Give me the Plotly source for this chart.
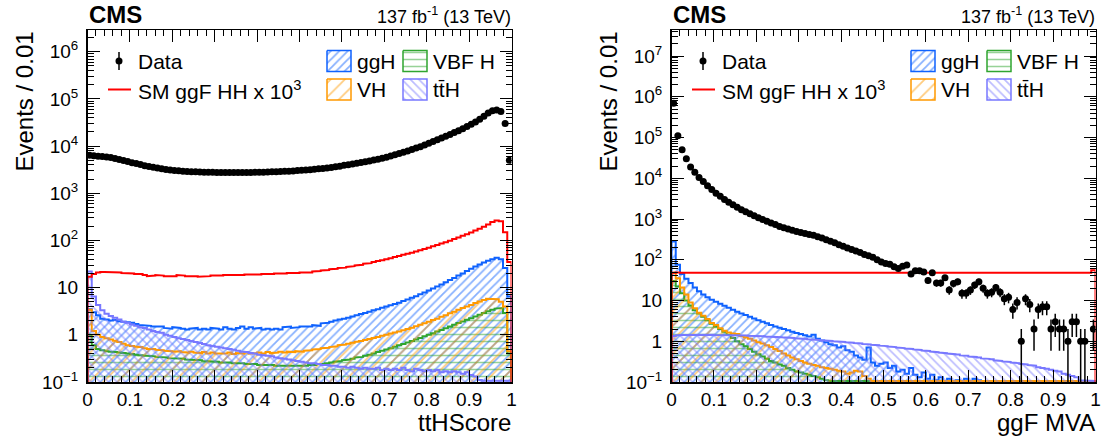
import math
import plotly.graph_objects as go

W, H = 1106, 439
N_BINS = 100
X_LO, X_HI = 0.0, 1.0

# ---------------- Left panel: ttHScore ----------------
tth_data = [6400, 6200, 6100, 6000, 5900, 5700, 5450, 5200, 4950, 4700,
            4450, 4250, 4050, 3850, 3700, 3550, 3420, 3300, 3200, 3120,
            3050, 2990, 2940, 2900, 2870, 2840, 2820, 2800, 2790, 2780,
            2770, 2760, 2760, 2750, 2750, 2750, 2760, 2760, 2770, 2780,
            2790, 2800, 2820, 2840, 2860, 2880, 2910, 2940, 2980, 3020,
            3060, 3110, 3160, 3220, 3290, 3360, 3440, 3530, 3630, 3740,
            3900, 4030, 4170, 4320, 4480, 4660, 4850, 5060, 5280, 5520,
            5800, 6150, 6550, 6950, 7400, 7900, 8450, 9050, 9700, 10500,
            11500, 12500, 13600, 14800, 16100, 17600, 19300, 21200, 23400, 26000,
            29000, 32500, 37000, 43000, 50000, 56000, 58000, 54000, 30000, 5000]

tth_hh = [17, 19.5, 21, 21.5, 21.5, 21, 21.5, 21, 20.5, 20.5,
          20, 19.5, 19.5, 18.5, 17.5, 18, 18.5, 18, 17.5, 17,
          17.5, 18.5, 18, 17.5, 18, 17.5, 17, 17.5, 17.5, 18,
          17.5, 18, 18.5, 18, 18.5, 18, 18.5, 19, 18.5, 19,
          19, 19.5, 19, 19.5, 20, 19.5, 20, 20.5, 20, 20.5,
          21, 21.5, 21, 22, 22.5, 23, 23.5, 24.5, 25, 26,
          26.5, 27.5, 28.5, 29.5, 30.5, 32, 33, 35, 36.5, 38,
          40, 42, 44.5, 47, 49.5, 52, 55, 58.5, 62, 66,
          70, 75, 80, 86, 92, 99, 107, 116, 125, 136,
          148, 162, 178, 196, 218, 245, 265, 255, 150, 35]

tth_ggh = [3.5, 3.0, 2.6, 2.2, 2.1, 2.0, 2.05, 1.95, 1.9, 1.85,
           1.8, 1.7, 1.6, 1.6, 1.55, 1.5, 1.45, 1.5, 1.4, 1.35,
           1.45, 1.4, 1.35, 1.3, 1.35, 1.4, 1.3, 1.35, 1.3, 1.4,
           1.35, 1.3, 1.45, 1.35, 1.3, 1.4, 1.5, 1.35, 1.45, 1.35,
           1.4, 1.3, 1.35, 1.3, 1.35, 1.3, 1.45, 1.5, 1.4, 1.45,
           1.5, 1.55, 1.5, 1.6, 1.55, 1.75, 1.8, 1.9, 2.0, 2.1,
           2.2, 2.3, 2.45, 2.6, 2.75, 2.9, 3.1, 3.3, 3.5, 3.75,
           4.0, 4.25, 4.5, 4.8, 5.2, 5.6, 6.1, 6.6, 7.2, 7.9,
           8.7, 9.6, 10.6, 11.7, 13, 14.5, 16, 18, 20, 22.5,
           25, 28, 31, 34, 37, 40, 43, 40, 26, 6.5]

tth_vbf = [1.0, 0.6, 0.5, 0.47, 0.45, 0.44, 0.43, 0.42, 0.41, 0.4,
           0.39, 0.38, 0.37, 0.36, 0.36, 0.35, 0.34, 0.34, 0.33, 0.32,
           0.32, 0.31, 0.31, 0.3, 0.3, 0.29, 0.29, 0.28, 0.28, 0.27,
           0.27, 0.26, 0.26, 0.26, 0.25, 0.25, 0.25, 0.24, 0.24, 0.24,
           0.23, 0.23, 0.23, 0.23, 0.22, 0.22, 0.22, 0.22, 0.22, 0.22,
           0.22, 0.22, 0.23, 0.23, 0.24, 0.24, 0.25, 0.26, 0.27, 0.28,
           0.29, 0.3, 0.31, 0.33, 0.34, 0.36, 0.38, 0.4, 0.43, 0.46,
           0.49, 0.52, 0.56, 0.6, 0.64, 0.69, 0.74, 0.8, 0.86, 0.93,
           1.0, 1.08, 1.17, 1.27, 1.38, 1.5, 1.63, 1.77, 1.92, 2.08,
           2.25, 2.45, 2.65, 2.9, 3.15, 3.4, 3.6, 3.7, 2.9, 0.4]

tth_vh = [3.4, 1.2, 1.0, 0.9, 0.85, 0.8, 0.75, 0.7, 0.65, 0.6,
          0.58, 0.56, 0.55, 0.52, 0.5, 0.5, 0.48, 0.47, 0.46, 0.45,
          0.44, 0.45, 0.43, 0.42, 0.44, 0.42, 0.41, 0.43, 0.4, 0.42,
          0.4, 0.41, 0.4, 0.42, 0.39, 0.41, 0.4, 0.42, 0.4, 0.41,
          0.42, 0.4, 0.43, 0.41, 0.42, 0.44, 0.42, 0.44, 0.43, 0.45,
          0.44, 0.46, 0.47, 0.49, 0.5, 0.52, 0.53, 0.55, 0.57, 0.6,
          0.62, 0.65, 0.68, 0.71, 0.74, 0.78, 0.82, 0.86, 0.9, 0.95,
          1.0, 1.06, 1.12, 1.18, 1.25, 1.33, 1.42, 1.52, 1.63, 1.75,
          1.9, 2.05, 2.2, 2.4, 2.6, 2.85, 3.1, 3.4, 3.7, 4.0,
          4.3, 4.7, 5.1, 5.5, 5.8, 5.9, 5.7, 5.0, 4.0, 0.45]

tth_tth = [22, 6.5, 4.3, 3.3, 2.8, 2.5, 2.3, 2.1, 1.9, 1.8,
           1.65, 1.55, 1.45, 1.4, 1.3, 1.2, 1.15, 1.1, 1.0, 0.95,
           0.9, 0.85, 0.82, 0.78, 0.74, 0.7, 0.67, 0.64, 0.6, 0.58,
           0.56, 0.54, 0.52, 0.5, 0.48, 0.46, 0.44, 0.43, 0.41, 0.4,
           0.38, 0.37, 0.36, 0.35, 0.33, 0.32, 0.31, 0.3, 0.29, 0.28,
           0.27, 0.26, 0.25, 0.25, 0.24, 0.23, 0.23, 0.22, 0.22, 0.21,
           0.21, 0.2, 0.21, 0.2, 0.19, 0.2, 0.19, 0.19, 0.2, 0.18,
           0.19, 0.18, 0.19, 0.18, 0.2, 0.18, 0.17, 0.19, 0.18, 0.17,
           0.18, 0.17, 0.18, 0.16, 0.17, 0.16, 0.17, 0.16, 0.15, 0.16,
           0.14, 0.13, 0.11, 0.09, 0.07, 0.05, 0.05, 0.04, 0.04, 0.03]

# ---------------- Right panel: ggF MVA ----------------
mva_data = [700000, 110000, 50000, 30000, 19000, 14000, 10500, 8300, 6600, 5300,
            4300, 3600, 3000, 2600, 2250, 1950, 1700, 1500, 1350, 1200,
            1080, 970, 880, 800, 730, 660, 610, 570, 530, 495,
            465, 440, 420, 400, 370, 340, 310, 285, 260, 235,
            215, 195, 180, 165, 150, 135, 125, 115, 100, 88,
            81, 78, 67, 61, 69, 74, 45, 54, 54, 50,
            31, 48, 27, 27, 36, 18, 26, 29, 15, 15,
            18, 24, 29, 20, 15, 16, 21, 16, 11, 12,
            6, 9, 1, 11, 8, 2, 6, 7, 7, 2,
            3, 2, 2, 1, 3, 3, 1, 1, 0, 2]

mva_hh = [48, 49, 48, 48, 49, 48, 48, 49, 48, 48,
          49, 48, 48, 49, 48, 48, 49, 48, 48, 48,
          49, 48, 49, 48, 48, 49, 48, 48, 49, 48,
          48, 49, 48, 48, 49, 48, 48, 48, 49, 48,
          49, 48, 48, 49, 48, 48, 49, 48, 48, 49,
          48, 48, 49, 48, 48, 49, 48, 48, 49, 48,
          48, 49, 48, 48, 48, 49, 48, 48, 49, 48,
          49, 48, 48, 49, 48, 48, 49, 48, 48, 49,
          48, 48, 49, 48, 48, 49, 48, 48, 49, 48,
          48, 49, 48, 48, 49, 48, 48, 49, 48, 55]

mva_ggh = [280, 75, 45, 34, 27, 21, 17, 14, 12, 10.5,
           9.3, 8.3, 7.4, 6.6, 5.9, 5.3, 4.8, 4.4, 4.0, 3.6,
           3.3, 3.0, 2.75, 2.5, 2.3, 2.15, 2.0, 1.85, 1.7, 1.6,
           1.5, 1.4, 1.3, 1.45, 1.15, 1.05, 0.95, 0.85, 0.8, 0.7,
           0.75, 0.6, 0.55, 0.45, 0.4, 0.35, 0.7, 0.3, 0.25, 0.28,
           0.3, 0.22, 0.25, 0.18, 0.2, 0.16, 0.22, 0.15, 0.13, 0.17,
           0.12, 0.15, 0.11, 0.13, 0.1, 0.12, 0.09, 0.11, 0.08, 0.12,
           0.09, 0.12, 0.11, 0.07, 0.08, 0.11, 0.06, 0.07, 0.09, 0.05,
           0.06, 0.05, 0.07, 0.04, 0.05, 0.04, 0.05, 0.03, 0.04, 0.03,
           0.03, 0.03, 0.02, 0.02, 0.02, 0.02, 0.02, 0.01, 0.01, 0.01]

mva_vbf = [30, 22, 15, 10, 7.5, 5.8, 4.8, 4.0, 3.3, 2.7,
           2.3, 2.0, 1.7, 1.45, 1.2, 1.0, 0.85, 0.75, 0.65, 0.55,
           0.48, 0.42, 0.37, 0.33, 0.3, 0.27, 0.25, 0.22, 0.2, 0.18,
           0.17, 0.16, 0.15, 0.14, 0.13, 0.12, 0.11, 0.1, 0.095, 0.09,
           0.085, 0.08, 0.075, 0.07, 0.065, 0.06, 0.055, 0.05, 0.05, 0.045,
           0.045, 0.04, 0.04, 0.035, 0.035, 0.03, 0.03, 0.03, 0.025, 0.025,
           0.025, 0.02, 0.02, 0.02, 0.02, 0.015, 0.015, 0.015, 0.015, 0.01,
           0.01, 0.01, 0.01, 0.01, 0.01, 0.01, 0.01, 0.01, 0.01, 0.01,
           0.01, 0.01, 0.01, 0.01, 0.01, 0.01, 0.01, 0.01, 0.01, 0.01,
           0.01, 0.01, 0.01, 0.01, 0.01, 0.01, 0.01, 0.01, 0.01, 0.01]

mva_vh = [48, 35, 21, 14, 9, 6.5, 5.0, 4.2, 3.5, 2.8,
          2.5, 2.1, 1.8, 1.65, 1.55, 1.5, 1.35, 1.25, 1.15, 1.05,
          0.95, 0.88, 0.8, 0.72, 0.65, 0.58, 0.5, 0.45, 0.4, 0.36,
          0.33, 0.3, 0.28, 0.26, 0.25, 0.23, 0.22, 0.21, 0.2, 0.19,
          0.18, 0.16, 0.17, 0.19, 0.18, 0.14, 0.12, 0.1, 0.09, 0.08,
          0.06, 0.05, 0.05, 0.05, 0.04, 0.04, 0.04, 0.04, 0.03, 0.03,
          0.03, 0.03, 0.03, 0.03, 0.02, 0.02, 0.02, 0.02, 0.02, 0.02,
          0.02, 0.02, 0.02, 0.02, 0.02, 0.02, 0.02, 0.02, 0.02, 0.02,
          0.02, 0.02, 0.02, 0.02, 0.02, 0.02, 0.02, 0.02, 0.02, 0.02,
          0.02, 0.02, 0.02, 0.02, 0.02, 0.02, 0.02, 0.02, 0.02, 0.02]

mva_tth = [1.35, 1.40, 1.42, 1.43, 1.44, 1.44, 1.45, 1.44, 1.45, 1.44,
           1.43, 1.44, 1.42, 1.43, 1.41, 1.40, 1.40, 1.38, 1.37, 1.36,
           1.34, 1.33, 1.31, 1.30, 1.28, 1.26, 1.25, 1.22, 1.20, 1.18,
           1.16, 1.14, 1.12, 1.10, 1.08, 1.06, 1.04, 1.02, 1.00, 0.98,
           0.96, 0.94, 0.92, 0.90, 0.88, 0.86, 0.84, 0.82, 0.80, 0.78,
           0.76, 0.74, 0.72, 0.70, 0.68, 0.66, 0.65, 0.63, 0.61, 0.59,
           0.58, 0.56, 0.54, 0.53, 0.51, 0.50, 0.48, 0.47, 0.45, 0.44,
           0.42, 0.41, 0.40, 0.38, 0.37, 0.36, 0.34, 0.33, 0.32, 0.31,
           0.30, 0.29, 0.28, 0.27, 0.26, 0.25, 0.23, 0.22, 0.21, 0.20,
           0.19, 0.18, 0.16, 0.15, 0.14, 0.13, 0.11, 0.10, 0.09, 0.08]

# ---------------- Axis ticks / labels ----------------
x_tickvals = [0, 0.1, 0.2, 0.3, 0.4, 0.5, 0.6, 0.7, 0.8, 0.9, 1]
x_ticktext = ["0", "0.1", "0.2", "0.3", "0.4", "0.5", "0.6", "0.7", "0.8", "0.9", "1"]
y_tickvals_left = [0.1, 1, 10, 1e2, 1e3, 1e4, 1e5, 1e6]
y_ticktext_left = ["10<sup>−1</sup>", "1", "10", "10<sup>2</sup>", "10<sup>3</sup>",
                   "10<sup>4</sup>", "10<sup>5</sup>", "10<sup>6</sup>"]
y_tickvals_right = [0.1, 1, 10, 1e2, 1e3, 1e4, 1e5, 1e6, 1e7]
y_ticktext_right = ["10<sup>−1</sup>", "1", "10", "10<sup>2</sup>", "10<sup>3</sup>",
                    "10<sup>4</sup>", "10<sup>5</sup>", "10<sup>6</sup>", "10<sup>7</sup>"]

x_titles = ["ttHScore", "ggF MVA"]
y_title = "Events / 0.01"
legend_labels = ["Data", "SM ggF HH x 10<sup>3</sup>", "ggH", "VBF H", "VH", "tt\u0304H"]

# ---------------- Styles ----------------
FONT = "Liberation Sans, Arial, Helvetica, sans-serif"
C_GGH = "#0f62fe"
C_VBF = "#2fa52f"
C_VH = "#ff9900"
C_TTH = "#7878ff"
C_HH = "#ff0000"

PAT = {
    "ggH": dict(shape="/", size=6, solidity=0.3),
    "VBF": dict(shape="-", size=7, solidity=0.22),
    "VH": dict(shape="/", size=10, solidity=0.18),
    "ttH": dict(shape="\\", size=6, solidity=0.28),
}

# panel geometry (pixels)
Y_TOP, Y_BOT = 30, 382
PANELS = [
    dict(x0=87.5, x1=511.5, yr=[-1, 6.46]),
    dict(x0=671.5, x1=1095.5, yr=[-1, 7.64]),
]

edges = [X_LO + (X_HI - X_LO) * i / N_BINS for i in range(N_BINS + 1)]
centers = [(edges[i] + edges[i + 1]) / 2 for i in range(N_BINS)]


def step_poly(vals, ymin):
    floor = ymin * 1e-3
    clip = ymin * 1.06
    xs, ys = [edges[0]], [floor]
    for i, v in enumerate(vals):
        vv = max(v, clip)
        xs += [edges[i], edges[i + 1]]
        ys += [vv, vv]
    xs.append(edges[-1])
    ys.append(floor)
    return xs, ys


fig = go.Figure()


def add_hist(vals, color, pat, xa, ya, ymin, filled=True):
    xs, ys = step_poly(vals, ymin)
    kw = dict(x=xs, y=ys, mode="lines", xaxis=xa, yaxis=ya, showlegend=False,
              line=dict(color=color, width=2), hoverinfo="skip")
    if filled:
        kw.update(fill="toself", fillcolor="rgba(0,0,0,0)",
                  fillpattern=dict(fgcolor=color, bgcolor="rgba(0,0,0,0)", **pat))
    fig.add_trace(go.Scatter(**kw))


def add_data(vals, xa, ya):
    ys = [v if v > 0 else None for v in vals]
    errs = [math.sqrt(v) if v > 0 else 0 for v in vals]
    fig.add_trace(go.Scatter(
        x=centers, y=ys, mode="markers", xaxis=xa, yaxis=ya, showlegend=False,
        marker=dict(color="black", size=7),
        error_y=dict(type="data", array=errs, visible=True, color="black",
                     thickness=1.5, width=0)))


series = [
    (tth_data, tth_hh, tth_ggh, tth_vbf, tth_vh, tth_tth),
    (mva_data, mva_hh, mva_ggh, mva_vbf, mva_vh, mva_tth),
]

for k, (d, hh, ggh, vbf, vh, tth) in enumerate(series):
    xa = "x" if k == 0 else "x2"
    ya = "y" if k == 0 else "y2"
    ymin = 10 ** PANELS[k]["yr"][0]
    add_hist(ggh, C_GGH, PAT["ggH"], xa, ya, ymin)
    add_hist(vbf, C_VBF, PAT["VBF"], xa, ya, ymin)
    add_hist(vh, C_VH, PAT["VH"], xa, ya, ymin)
    add_hist(tth, C_TTH, PAT["ttH"], xa, ya, ymin)
    add_hist(hh, C_HH, None, xa, ya, ymin, filled=False)
    add_data(d, xa, ya)

# ---------------- Legends (drawn on a pixel overlay axis) ----------------
ROW1, ROW2 = 61, 89.5
annotations = []
for k, p in enumerate(PANELS):
    dx = p["x0"] - PANELS[0]["x0"]
    # Data key
    fig.add_trace(go.Scatter(x=[119 + dx, 119 + dx], y=[52, 70], mode="lines",
                             line=dict(color="black", width=1.5), xaxis="x3", yaxis="y3",
                             showlegend=False, hoverinfo="skip"))
    fig.add_trace(go.Scatter(x=[119 + dx], y=[ROW1], mode="markers",
                             marker=dict(color="black", size=7), xaxis="x3", yaxis="y3",
                             showlegend=False, hoverinfo="skip"))
    # HH key
    fig.add_trace(go.Scatter(x=[108 + dx, 131 + dx], y=[ROW2, ROW2], mode="lines",
                             line=dict(color=C_HH, width=2), xaxis="x3", yaxis="y3",
                             showlegend=False, hoverinfo="skip"))
    boxes = [(327, ROW1, C_GGH, PAT["ggH"]), (403, ROW1, C_VBF, PAT["VBF"]),
             (327, ROW2, C_VH, PAT["VH"]), (403, ROW2, C_TTH, PAT["ttH"])]
    for bx, by, col, pat in boxes:
        x0, x1 = bx + dx, bx + 24 + dx
        y0, y1 = by - 10.5, by + 10.5
        fig.add_trace(go.Scatter(x=[x0, x1, x1, x0, x0], y=[y0, y0, y1, y1, y0],
                                 mode="lines", fill="toself", fillcolor="rgba(0,0,0,0)",
                                 fillpattern=dict(fgcolor=col, bgcolor="rgba(0,0,0,0)", **pat),
                                 line=dict(color=col, width=1.5), xaxis="x3", yaxis="y3",
                                 showlegend=False, hoverinfo="skip"))
    label_pos = [(136, ROW1), (136, ROW2), (355, ROW1), (431, ROW1), (355, ROW2), (431, ROW2)]
    for (lx, ly), txt in zip(label_pos, legend_labels):
        annotations.append(dict(x=lx + dx, y=ly, xref="x3", yref="y3", text=txt,
                                showarrow=False, xanchor="left", yanchor="middle",
                                font=dict(size=21, color="black", family=FONT)))
    # CMS label and lumi
    annotations.append(dict(x=p["x0"] - 1, y=14, xref="x3", yref="y3", text="<b>CMS</b>",
                            showarrow=False, xanchor="left", yanchor="middle",
                            font=dict(size=24, color="black", family=FONT)))
    annotations.append(dict(x=p["x1"] + 1, y=15, xref="x3", yref="y3",
                            text="137 fb<sup>-1</sup> (13 TeV)",
                            showarrow=False, xanchor="right", yanchor="middle",
                            font=dict(size=18, color="black", family=FONT)))
    # axis titles
    annotations.append(dict(x=p["x0"] - 64, y=Y_TOP, xref="x3", yref="y3", text=y_title,
                            textangle=-90, showarrow=False, xanchor="center", yanchor="top",
                            font=dict(size=24, color="black", family=FONT)))
    annotations.append(dict(x=p["x1"] + 1, y=422, xref="x3", yref="y3", text=x_titles[k],
                            showarrow=False, xanchor="right", yanchor="middle",
                            font=dict(size=24, color="black", family=FONT)))

# ---------------- Axes ----------------
ydom = [(H - Y_BOT) / H, (H - Y_TOP) / H]


def minor_log(yr):
    vals = []
    for e in range(int(math.floor(yr[0])), int(math.ceil(yr[1])) + 1):
        for m in range(2, 10):
            vals.append(m * 10 ** e)
    return vals


common_x = dict(range=[X_LO, X_HI], tickmode="array", tickvals=x_tickvals, ticktext=x_ticktext,
                ticks="inside", ticklen=12, tickwidth=1, tickcolor="black",
                showline=True, linecolor="black", linewidth=1.5, mirror="allticks",
                showgrid=False, zeroline=False, automargin=False,
                minor=dict(ticks="inside", dtick=0.02, ticklen=6, tickcolor="black", tickwidth=1,
                           showgrid=False),
                tickfont=dict(size=19, color="black", family=FONT), fixedrange=True)

layout = dict(
    width=W, height=H, autosize=False,
    margin=dict(l=0, r=0, t=0, b=0, pad=0),
    paper_bgcolor="white", plot_bgcolor="rgba(0,0,0,0)",
    showlegend=False,
    font=dict(family=FONT, color="black"),
    annotations=annotations,
)
for k, p in enumerate(PANELS):
    sx = "" if k == 0 else "2"
    tv = y_tickvals_left if k == 0 else y_tickvals_right
    tt = y_ticktext_left if k == 0 else y_ticktext_right
    layout["xaxis" + sx] = dict(common_x, domain=[p["x0"] / W, p["x1"] / W],
                                anchor="y" + sx)
    layout["yaxis" + sx] = dict(
        type="log", range=p["yr"], domain=ydom, anchor="x" + sx,
        tickmode="array", tickvals=tv, ticktext=tt,
        ticks="inside", ticklen=12, tickwidth=1, tickcolor="black",
        showline=True, linecolor="black", linewidth=1.5, mirror="allticks",
        showgrid=False, zeroline=False, automargin=False,
        minor=dict(ticks="inside", tickmode="array", tickvals=minor_log(p["yr"]),
                   ticklen=6, tickcolor="black", tickwidth=1, showgrid=False),
        tickfont=dict(size=19, color="black", family=FONT), ticklabelstandoff=4,
        fixedrange=True)

layout["xaxis3"] = dict(domain=[0, 1], range=[0, W], visible=False, anchor="y3",
                        fixedrange=True, automargin=False)
layout["yaxis3"] = dict(domain=[0, 1], range=[H, 0], visible=False, anchor="x3",
                        fixedrange=True, automargin=False)

fig.update_layout(**layout)
fig.write_html(
    "out.html",
    config={"displayModeBar": False, "staticPlot": True},
    post_script="document.body.style.margin='0px';document.body.style.overflow='hidden';",
)
